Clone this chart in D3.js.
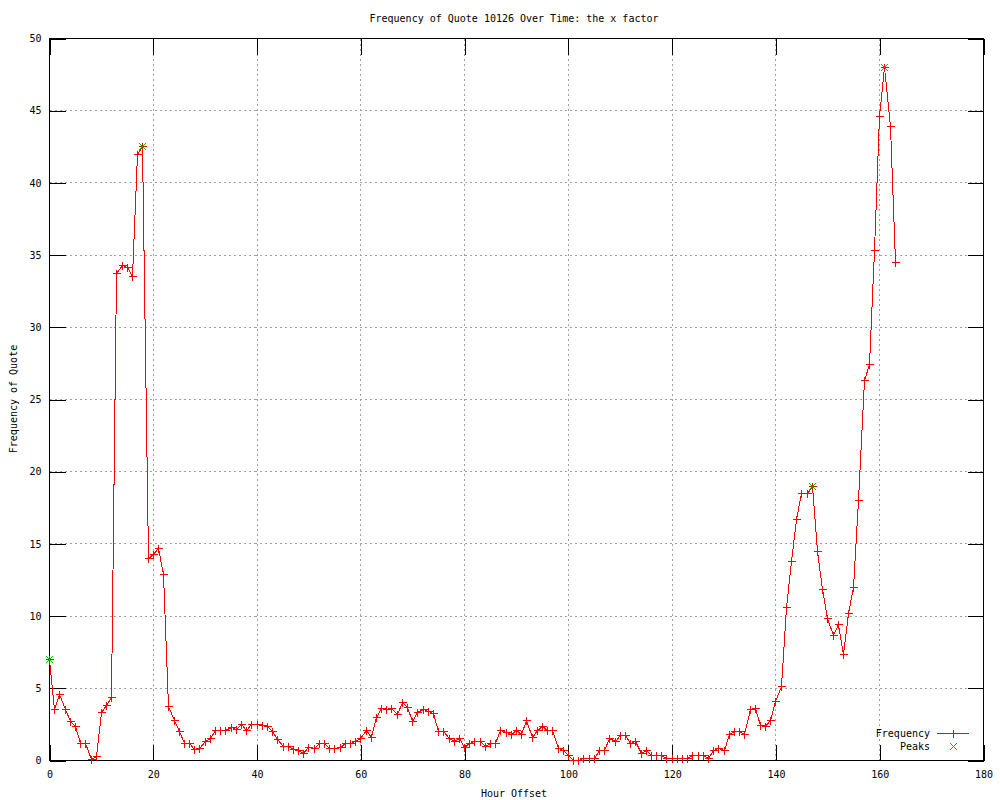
<!DOCTYPE html>
<html>
<head>
<meta charset="utf-8">
<script src="https://cdn.jsdelivr.net/npm/d3@7"></script>
<style>
  body { margin: 0; background: #fff; }
  text { font-family: "DejaVu Sans Mono", monospace; font-size: 10px; fill: #000; }
</style>
</head>
<body>
<svg id="chart" width="1000" height="800"></svg>
<script>
'use strict';

// frequency per hour offset (index = hour)
const frequency = [
	7.0, 3.5, 4.6, 3.5, 2.7, 2.35, 1.15, 1.15, 0.1, 0.3,
	3.3, 3.8, 4.35, 33.7, 34.3, 34.15, 33.5, 42.0, 42.5, 14.0,
	14.3, 14.65, 12.85, 3.75, 2.8, 2.0, 1.15, 1.15, 0.75, 0.85,
	1.3, 1.55, 2.1, 2.1, 2.1, 2.3, 2.15, 2.5, 2.1, 2.5,
	2.5, 2.4, 2.35, 2.0, 1.45, 0.95, 0.95, 0.75, 0.7, 0.5,
	0.9, 0.85, 1.15, 1.15, 0.8, 0.8, 0.9, 1.15, 1.2, 1.3,
	1.5, 2.1, 1.6, 2.95, 3.6, 3.55, 3.6, 3.2, 4.0, 3.7,
	2.7, 3.3, 3.5, 3.4, 3.25, 2.0, 2.0, 1.5, 1.35, 1.5,
	0.9, 1.15, 1.35, 1.35, 0.95, 1.15, 1.15, 2.1, 1.95, 1.8,
	2.1, 1.8, 2.75, 1.6, 2.05, 2.35, 2.05, 2.05, 0.8, 0.7,
	0.35, 0, 0, 0.15, 0.15, 0.15, 0.7, 0.7, 1.5, 1.35,
	1.7, 1.7, 1.15, 1.35, 0.5, 0.7, 0.35, 0.35, 0.35, 0.15,
	0.15, 0.15, 0.15, 0.15, 0.35, 0.35, 0.35, 0.15, 0.7, 0.85,
	0.7, 1.8, 2.0, 2.0, 1.8, 3.5, 3.6, 2.45, 2.35, 2.8,
	4.1, 5.1, 10.6, 13.8, 16.7, 18.5, 18.5, 19.0, 14.45, 11.85,
	9.85, 8.65, 9.45, 7.35, 10.15, 11.95, 18.0, 26.3, 27.4, 35.3,
	44.6, 48.0, 43.9, 34.5
];

const peakHours = [0, 18, 147, 161];
const peakValues = [7.0, 42.5, 19.0, 48.0];

const xTicks = [0, 20, 40, 60, 80, 100, 120, 140, 160, 180];
const yTicks = [0, 5, 10, 15, 20, 25, 30, 35, 40, 45, 50];

const title = "Frequency of Quote 10126 Over Time: the x factor";
const xLabel = "Hour Offset";
const yLabel = "Frequency of Quote";
const seriesNames = ["Frequency", "Peaks"];

const red = "#ff0000";
const green = "#00c000";

const svg = d3.select("#chart");
const margin = {top: 38, right: 17, bottom: 40, left: 49};
const width = 1000 - margin.left - margin.right;
const height = 800 - margin.top - margin.bottom;
const tick = 16;

const x = d3.scaleLinear().domain([0, 180]).range([0, width]);
const y = d3.scaleLinear().domain([0, 50]).range([height, 0]);

svg.append("rect").attr("width", 1000).attr("height", 800).attr("fill", "#fff");

const g = svg.append("g")
	.attr("transform", `translate(${margin.left + 0.5},${margin.top + 0.5})`)
	.attr("shape-rendering", "crispEdges");

// dotted grid
const grid = g.append("g")
	.attr("stroke", "#a0a0a0")
	.attr("stroke-dasharray", "2,3");

grid.selectAll("line.gx")
	.data(xTicks.slice(1, -1))
	.enter().append("line")
	.attr("x1", d => Math.round(x(d))).attr("x2", d => Math.round(x(d)))
	.attr("y1", 0).attr("y2", height);

grid.selectAll("line.gy")
	.data(yTicks.slice(1, -1))
	.enter().append("line")
	.attr("x1", 0).attr("x2", width)
	.attr("y1", d => Math.round(y(d))).attr("y2", d => Math.round(y(d)));

// axes with inward ticks (mirrored on top and right)
const styleAxis = sel => {
	sel.selectAll("line").attr("stroke", "#000");
	sel.select(".domain").remove();
	sel.selectAll("text").attr("fill", null);
	sel.attr("font-family", null).attr("font-size", null);
};

g.append("g")
	.attr("transform", `translate(0,${height})`)
	.call(d3.axisBottom(x).tickValues(xTicks).tickSize(-tick).tickPadding(10).tickFormat(d3.format("d")))
	.call(styleAxis);

g.append("g")
	.call(d3.axisTop(x).tickValues(xTicks).tickSize(-tick).tickFormat(""))
	.call(styleAxis);

g.append("g")
	.call(d3.axisLeft(y).tickValues(yTicks).tickSize(-tick).tickPadding(8).tickFormat(d3.format("d")))
	.call(styleAxis);

g.append("g")
	.attr("transform", `translate(${width},0)`)
	.call(d3.axisRight(y).tickValues(yTicks).tickSize(-tick).tickFormat(""))
	.call(styleAxis);

// frame
g.append("rect")
	.attr("width", width).attr("height", height)
	.attr("fill", "none").attr("stroke", "#000");

// frequency line
const line = d3.line()
	.x((d, i) => Math.round(x(i)))
	.y(d => Math.round(y(d)));

g.append("path")
	.datum(frequency)
	.attr("fill", "none")
	.attr("stroke", red)
	.attr("stroke-width", 1)
	.attr("d", line);

const plus = (sel, color) => sel
	.attr("fill", "none").attr("stroke", color)
	.attr("d", "M-4,0H4M0,-4V4");

const cross = (sel, color) => sel
	.attr("fill", "none").attr("stroke", color)
	.attr("stroke-width", 1.2)
	.attr("d", "M-3.5,-3.5L3.5,3.5M-3.5,3.5L3.5,-3.5");

g.selectAll("path.pt")
	.data(frequency)
	.enter().append("path")
	.attr("class", "pt")
	.attr("transform", (d, i) => `translate(${Math.round(x(i))},${Math.round(y(d))})`)
	.call(plus, red);

g.selectAll("path.peak")
	.data(peakHours)
	.enter().append("path")
	.attr("class", "peak")
	.attr("transform", (d, i) => `translate(${Math.round(x(d))},${Math.round(y(peakValues[i]))})`)
	.call(cross, green);

// legend, drawn in the same crisp group as the plot
const legendY = [733, 746];
const legend = g.append("g")
	.attr("transform", `translate(${-margin.left},${-margin.top})`);

legend.selectAll("text")
	.data(seriesNames)
	.enter().append("text")
	.attr("x", 929.5)
	.attr("y", (d, i) => legendY[i])
	.attr("dy", "0.35em")
	.attr("text-anchor", "end")
	.text(d => d);

legend.append("rect")
	.attr("x", 936.5).attr("y", legendY[0] - 0.5)
	.attr("width", 32).attr("height", 1)
	.attr("fill", red);
legend.append("path")
	.attr("transform", `translate(953,${legendY[0]})`)
	.call(plus, red);
legend.append("path")
	.attr("transform", `translate(953,${legendY[1]})`)
	.call(cross, green);

// titles
svg.append("text")
	.attr("x", 514).attr("y", 22)
	.attr("text-anchor", "middle")
	.text(title);

svg.append("text")
	.attr("x", 514).attr("y", 797)
	.attr("text-anchor", "middle")
	.text(xLabel);

svg.append("text")
	.attr("transform", "translate(17,399) rotate(-90)")
	.attr("text-anchor", "middle")
	.text(yLabel);
</script>
</body>
</html>
